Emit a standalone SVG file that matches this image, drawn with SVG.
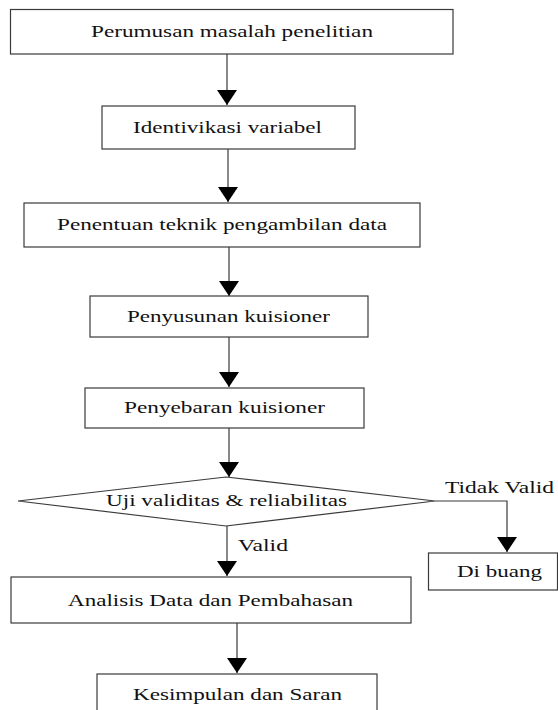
<svg xmlns="http://www.w3.org/2000/svg" width="558" height="710" viewBox="0 0 558 710">
<defs>
<style>
.box{fill:#fff;stroke:#3a3a3a;stroke-width:1.2}
.t{font-family:"Liberation Serif","Times New Roman",serif;font-size:17px;fill:#111}
.c{fill:none;stroke:#3a3a3a;stroke-width:1.2}
</style>
<marker id="ah" markerUnits="userSpaceOnUse" markerWidth="15" markerHeight="20" viewBox="0 0 15 20" refX="15" refY="10" orient="auto">
<path d="M0,0 L15,10 L0,20 Z" fill="#000"/>
</marker>
</defs>
<rect width="558" height="710" fill="#fff"/>
<g id="connectors">
<line class="c" x1="227" y1="54" x2="227" y2="105" marker-end="url(#ah)"/>
<line class="c" x1="228" y1="149" x2="228" y2="202" marker-end="url(#ah)"/>
<line class="c" x1="229" y1="247" x2="229" y2="296" marker-end="url(#ah)"/>
<line class="c" x1="229" y1="337" x2="229" y2="387" marker-end="url(#ah)"/>
<line class="c" x1="229" y1="428" x2="229" y2="477" marker-end="url(#ah)"/>
<line class="c" x1="227" y1="526" x2="227" y2="576" marker-end="url(#ah)"/>
<line class="c" x1="237" y1="623" x2="237" y2="673" marker-end="url(#ah)"/>
<polyline class="c" points="435,501 507,501 507,552" marker-end="url(#ah)"/>
<text class="t" x="238" y="551" textLength="50" lengthAdjust="spacingAndGlyphs">Valid</text>
<text class="t" x="445" y="493" textLength="109" lengthAdjust="spacingAndGlyphs">Tidak Valid</text>
</g>
<g id="n1">
<rect class="box" x="10.5" y="9.5" width="442.5" height="44.5"/>
<text class="t" x="91" y="37" textLength="282" lengthAdjust="spacingAndGlyphs">Perumusan masalah penelitian</text>
</g>
<g id="n2">
<rect class="box" x="102" y="106" width="253" height="43"/>
<text class="t" x="133" y="133" textLength="189" lengthAdjust="spacingAndGlyphs">Identivikasi variabel</text>
</g>
<g id="n3">
<rect class="box" x="24" y="203" width="396" height="44"/>
<text class="t" x="57" y="230" textLength="330" lengthAdjust="spacingAndGlyphs">Penentuan teknik pengambilan data</text>
</g>
<g id="n4">
<rect class="box" x="90" y="296" width="278" height="41"/>
<text class="t" x="127" y="322" textLength="203" lengthAdjust="spacingAndGlyphs">Penyusunan kuisioner</text>
</g>
<g id="n5">
<rect class="box" x="85" y="388" width="279" height="40"/>
<text class="t" x="124" y="413" textLength="201" lengthAdjust="spacingAndGlyphs">Penyebaran kuisioner</text>
</g>
<g id="n6">
<polygon class="box" points="18,501 226,477 435,501 226,526"/>
<text class="t" x="106" y="506" textLength="241" lengthAdjust="spacingAndGlyphs">Uji validitas &amp; reliabilitas</text>
</g>
<g id="n7">
<rect class="box" x="428.5" y="553" width="129" height="37"/>
<text class="t" x="457" y="577" textLength="85" lengthAdjust="spacingAndGlyphs">Di buang</text>
</g>
<g id="n8">
<rect class="box" x="11" y="577" width="400" height="46"/>
<text class="t" x="68" y="606" textLength="285" lengthAdjust="spacingAndGlyphs">Analisis Data dan Pembahasan</text>
</g>
<g id="n9">
<rect class="box" x="97" y="674" width="280" height="40"/>
<text class="t" x="133" y="700" textLength="209" lengthAdjust="spacingAndGlyphs">Kesimpulan dan Saran</text>
</g>
</svg>
